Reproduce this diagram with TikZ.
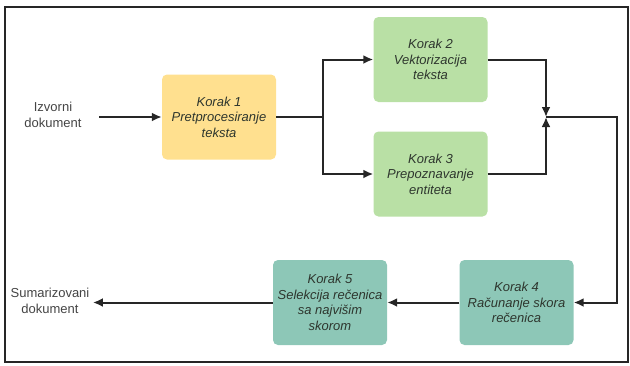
\documentclass[tikz,border=0pt]{standalone}
\usepackage{fontspec}
\setmainfont{Liberation Sans}
\usetikzlibrary{arrows.meta}
\definecolor{korakYellow}{HTML}{FFE08F}
\definecolor{korakGreen}{HTML}{B9E0A5}
\definecolor{korakTeal}{HTML}{8DC7B7}
\definecolor{korakText}{HTML}{2E362E}
\definecolor{labelText}{HTML}{444444}

\begin{document}
\begin{tikzpicture}[x=1pt,y=-1pt,
  korak/.style={rounded corners=5pt, minimum width=114pt, minimum height=85pt, inner sep=0pt,
    align=center, text=korakText, font=\fontsize{13}{15.5}\selectfont\itshape},
  doclabel/.style={align=center, text=labelText, font=\fontsize{13}{16}\selectfont},
  arr/.style={-{Latex[length=10pt,width=9pt]}, line width=2pt, black!85}]
\useasboundingbox (0,0) rectangle (630,365);
\draw[line width=2pt, black!85] (5,7) rectangle (628,362);

\node[korak, fill=korakYellow] (k1) at (219,117) {Korak 1\\Pretprocesiranje\\teksta};
\node[korak, fill=korakGreen] (k2) at (430.5,59.5) {Korak 2\\Vektorizacija\\teksta};
\node[korak, fill=korakGreen] (k3) at (430.5,174) {Korak 3\\Prepoznavanje\\entiteta};
\node[korak, fill=korakTeal] (k4) at (516.5,302.5) {Korak 4\\Računanje skora\\rečenica};
\node[korak, fill=korakTeal] (k5) at (330,302.5) {Korak 5\\Selekcija rečenica\\sa najvišim\\skorom};

\node[doclabel] (izvor) at (53,115) {Izvorni\\dokument};
\node[doclabel] (sum) at (50,301) {Sumarizovani\\dokument};

\coordinate (split) at (323,117);
\coordinate (merge) at (546,117);
\coordinate (turn) at (617,117);

\draw[arr] ([xshift=14pt]izvor.east |- k1.west) -- (k1.west);
\draw[arr] (k1.east) -- (split) |- (k2.west);
\draw[arr] (split) |- (k3.west);
\draw[arr] (k2.east) -| (merge);
\draw[arr] (k3.east) -| (merge);
\draw[arr] (merge) -- (turn) |- (k4.east);
\draw[arr] (k4.west) -- (k5.east);
\draw[arr] (k5.west) -- (k5.west -| sum.east);
\end{tikzpicture}
\end{document}
